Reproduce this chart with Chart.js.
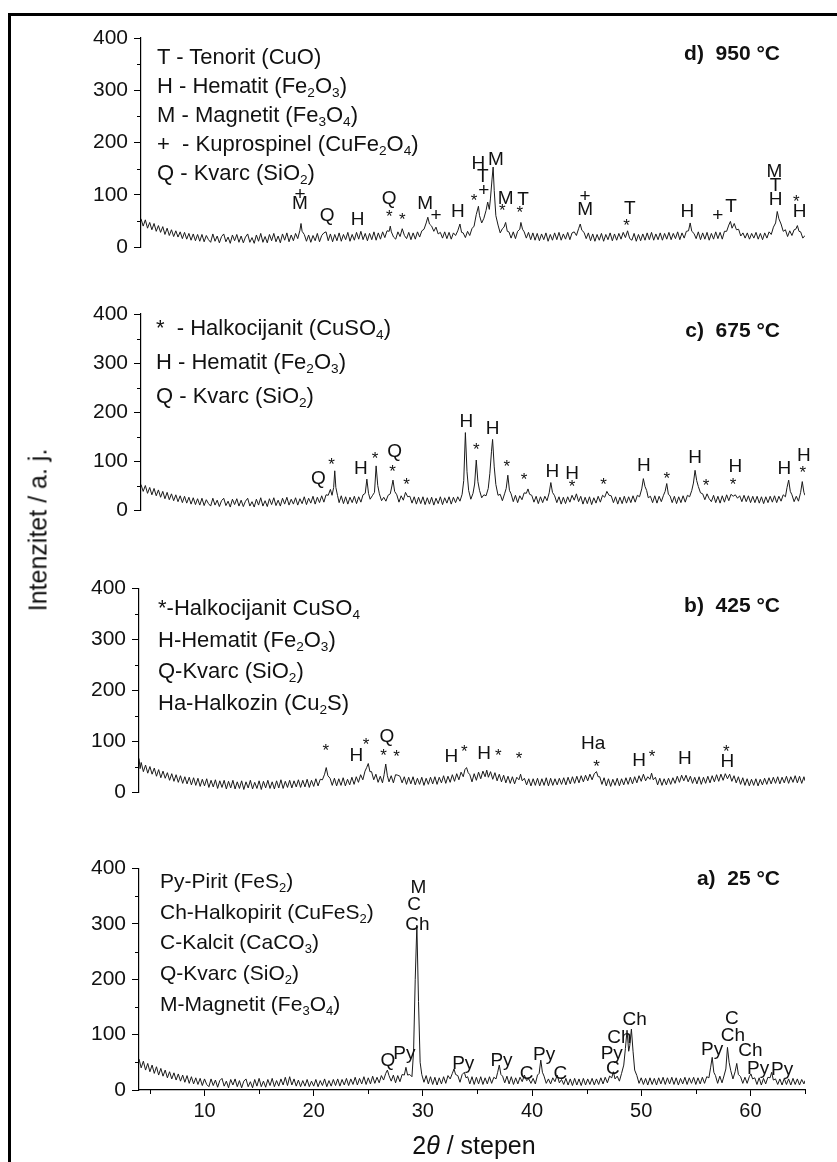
<!DOCTYPE html>
<html>
<head>
<meta charset="utf-8">
<title>XRD</title>
<script src="https://cdn.jsdelivr.net/npm/chart.js@4.4.1/dist/chart.umd.min.js"></script>
<style>
    html, body { margin: 0; padding: 0; background: #fff; }
    #wrap { position: relative; width: 837px; height: 1162px; overflow: hidden; background: #fff;
            font-family: "Liberation Sans", Arial, sans-serif; color: #111; }
    canvas { position: absolute; left: 0; }
    .frame { position: absolute; left: 8px; top: 13px; width: 900px; height: 1200px;
             border-left: 3px solid #000; border-top: 3px solid #000; }
    .phases { position: absolute; font-size: 22px; white-space: nowrap; }
    .phases sub { font-size: 0.62em; vertical-align: -0.32em; line-height: 0; }
    .ptitle { position: absolute; font-weight: bold; font-size: 21px; white-space: nowrap; }
    .ytitle { position: absolute; left: 38px; top: 530px; font-size: 25px; white-space: nowrap;
              transform: translate(-50%, -50%) rotate(-90deg); }
    .xtitle { position: absolute; left: 474px; top: 1145px; font-size: 25px; white-space: nowrap;
              transform: translate(-50%, -50%); }
</style>
</head>
<body>
<div id="wrap">
    <div class="frame"></div>
    <canvas id="chartD" width="837" height="300" style="top:0px"></canvas>
    <canvas id="chartC" width="837" height="275" style="top:295px"></canvas>
    <canvas id="chartB" width="837" height="280" style="top:570px"></canvas>
    <canvas id="chartA" width="837" height="312" style="top:850px"></canvas>

    <div class="phases" style="left:157px;top:42px;line-height:29px">
        <div>T - Tenorit (CuO)</div>
        <div>H - Hematit (Fe<sub>2</sub>O<sub>3</sub>)</div>
        <div>M - Magnetit (Fe<sub>3</sub>O<sub>4</sub>)</div>
        <div>+&nbsp; - Kuprospinel (CuFe<sub>2</sub>O<sub>4</sub>)</div>
        <div>Q - Kvarc (SiO<sub>2</sub>)</div>
    </div>
    <div class="phases" style="left:156px;top:311px;line-height:34px">
        <div>*&nbsp; - Halkocijanit (CuSO<sub>4</sub>)</div>
        <div>H - Hematit (Fe<sub>2</sub>O<sub>3</sub>)</div>
        <div>Q - Kvarc (SiO<sub>2</sub>)</div>
    </div>
    <div class="phases" style="left:158px;top:592px;line-height:31.7px">
        <div>*-Halkocijanit CuSO<sub>4</sub></div>
        <div>H-Hematit (Fe<sub>2</sub>O<sub>3</sub>)</div>
        <div>Q-Kvarc (SiO<sub>2</sub>)</div>
        <div>Ha-Halkozin (Cu<sub>2</sub>S)</div>
    </div>
    <div class="phases" style="left:160px;top:866px;line-height:30.7px;font-size:21px">
        <div>Py-Pirit (FeS<sub>2</sub>)</div>
        <div>Ch-Halkopirit (CuFeS<sub>2</sub>)</div>
        <div>C-Kalcit (CaCO<sub>3</sub>)</div>
        <div>Q-Kvarc (SiO<sub>2</sub>)</div>
        <div>M-Magnetit (Fe<sub>3</sub>O<sub>4</sub>)</div>
    </div>

    <div class="ptitle" style="right:57px;top:41px">d)&nbsp; 950 °C</div>
    <div class="ptitle" style="right:57px;top:318px">c)&nbsp; 675 °C</div>
    <div class="ptitle" style="right:57px;top:593px">b)&nbsp; 425 °C</div>
    <div class="ptitle" style="right:57px;top:866px">a)&nbsp; 25 °C</div>

    <div class="ytitle">Intenzitet / a. j.</div>
    <div class="xtitle">2<i>θ</i> / stepen</div>
</div>

<script>
// XRD patterns: [2theta, intensity]
const PATTERN_D = [
    [4.0,54],[4.2,40],[4.4,52],[4.6,36],[4.8,47],[5.0,33],[5.2,45],[5.4,30],[5.6,41],[5.8,28],[6.0,39],[6.2,24],
    [6.4,36],[6.6,22],[6.8,33],[7.0,20],[7.2,31],[7.4,19],[7.6,29],[7.8,16],[8.0,28],[8.2,15],[8.4,26],[8.6,13],
    [8.8,25],[9.0,12],[9.2,24],[9.4,11],[9.6,24],[9.8,10],[10.0,22],[10.2,14],[10.4,9],[10.6,25],[10.8,11],[11.0,21],
    [11.2,8],[11.4,20],[11.6,25],[11.8,10],[12.0,19],[12.2,7],[12.4,23],[12.6,12],[12.8,24],[13.0,9],[13.2,21],
    [13.4,8],[13.6,19],[13.8,25],[14.0,9],[14.2,18],[14.4,7],[14.6,23],[14.8,11],[15.0,26],[15.2,9],[15.4,20],
    [15.6,8],[15.8,24],[16.0,12],[16.2,26],[16.4,10],[16.6,21],[16.8,8],[17.0,25],[17.2,13],[17.4,27],[17.6,10],
    [17.8,23],[18.0,12],[18.2,26],[18.4,16],[18.6,32],[18.7,45],[18.8,30],[19.0,24],[19.2,11],[19.4,23],[19.6,9],
    [19.8,22],[20.0,12],[20.2,26],[20.4,10],[20.6,22],[20.8,27],[21.0,29],[21.2,12],[21.4,25],[21.6,10],[21.8,24],
    [22.0,12],[22.2,27],[22.4,11],[22.6,24],[22.8,14],[23.0,28],[23.2,11],[23.4,24],[23.6,13],[23.8,28],[24.0,15],
    [24.2,30],[24.4,14],[24.6,26],[24.8,12],[25.0,26],[25.2,14],[25.4,29],[25.6,13],[25.8,27],[26.0,15],[26.2,29],
    [26.4,18],[26.6,31],[26.8,30],[26.9,40],[27.0,29],[27.2,19],[27.4,15],[27.6,29],[27.8,20],[28.0,35],[28.2,22],
    [28.4,16],[28.6,28],[28.8,14],[29.0,27],[29.2,15],[29.4,29],[29.6,19],[29.8,31],[30.0,34],[30.2,46],[30.35,57],
    [30.5,44],[30.7,40],[30.9,30],[31.1,38],[31.3,25],[31.5,28],[31.7,17],[31.9,29],[32.1,16],[32.3,28],[32.5,15],
    [32.7,27],[32.9,22],[33.1,31],[33.3,44],[33.45,28],[33.6,27],[33.8,18],[34.0,30],[34.2,22],[34.4,35],[34.6,40],
    [34.8,62],[35.0,78],[35.1,60],[35.3,46],[35.5,55],[35.7,70],[35.85,86],[36.0,72],[36.1,92],[36.25,130],[36.35,153],
    [36.45,108],[36.6,60],[36.8,42],[37.0,27],[37.2,35],[37.35,38],[37.5,47],[37.65,30],[37.8,29],[38.0,17],[38.2,29],
    [38.4,16],[38.6,30],[38.8,34],[38.9,47],[39.05,34],[39.2,29],[39.4,17],[39.6,28],[39.8,14],[40.0,27],[40.2,13],
    [40.4,26],[40.6,12],[40.8,25],[41.0,14],[41.2,27],[41.4,11],[41.6,24],[41.8,13],[42.0,27],[42.2,14],[42.4,28],
    [42.6,13],[42.8,25],[43.0,15],[43.2,28],[43.4,14],[43.6,27],[43.8,29],[44.0,22],[44.2,35],[44.35,44],[44.5,32],
    [44.7,28],[44.9,16],[45.1,27],[45.3,12],[45.5,25],[45.7,11],[45.9,24],[46.1,13],[46.3,26],[46.5,11],[46.7,24],
    [46.9,14],[47.1,27],[47.3,12],[47.5,25],[47.7,13],[47.9,26],[48.1,15],[48.3,28],[48.5,18],[48.7,31],[48.9,16],
    [49.1,13],[49.3,26],[49.5,11],[49.7,24],[49.9,12],[50.1,25],[50.3,13],[50.5,27],[50.7,14],[50.9,28],[51.1,13],
    [51.3,25],[51.5,14],[51.7,27],[51.9,13],[52.1,26],[52.3,15],[52.5,28],[52.7,14],[52.9,26],[53.1,16],[53.3,29],
    [53.5,14],[53.7,27],[53.9,17],[54.1,30],[54.3,31],[54.45,46],[54.6,30],[54.8,26],[55.0,16],[55.2,29],[55.4,14],
    [55.6,27],[55.8,15],[56.0,28],[56.2,13],[56.4,26],[56.6,15],[56.8,29],[57.0,16],[57.2,28],[57.4,15],[57.6,30],
    [57.8,30],[58.0,42],[58.15,49],[58.3,36],[58.5,45],[58.7,33],[58.9,34],[59.1,21],[59.3,27],[59.5,17],[59.7,27],
    [59.9,15],[60.1,26],[60.3,17],[60.5,28],[60.7,15],[60.9,26],[61.1,14],[61.3,27],[61.5,17],[61.7,29],[61.9,24],
    [62.1,38],[62.3,46],[62.45,68],[62.6,54],[62.8,44],[63.0,30],[63.2,33],[63.4,20],[63.6,31],[63.8,22],[64.0,33],
    [64.15,34],[64.3,41],[64.45,30],[64.6,29],[64.8,17],[65.0,22]
];
const PATTERN_C = [
    [4.0,52],[4.2,38],[4.4,50],[4.6,34],[4.8,46],[5.0,31],[5.2,44],[5.4,29],[5.6,41],[5.8,26],[6.0,38],[6.2,23],
    [6.4,36],[6.6,21],[6.8,33],[7.0,19],[7.2,31],[7.4,17],[7.6,29],[7.8,15],[8.0,28],[8.2,14],[8.4,26],[8.6,12],
    [8.8,25],[9.0,11],[9.2,23],[9.4,10],[9.6,24],[9.8,9],[10.0,21],[10.2,13],[10.4,8],[10.6,24],[10.8,10],[11.0,20],
    [11.2,7],[11.4,19],[11.6,24],[11.8,9],[12.0,18],[12.2,6],[12.4,22],[12.6,11],[12.8,23],[13.0,8],[13.2,20],
    [13.4,7],[13.6,18],[13.8,24],[14.0,8],[14.2,17],[14.4,6],[14.6,22],[14.8,10],[15.0,25],[15.2,8],[15.4,19],
    [15.6,7],[15.8,23],[16.0,11],[16.2,25],[16.4,9],[16.6,20],[16.8,8],[17.0,24],[17.2,12],[17.4,26],[17.6,10],
    [17.8,22],[18.0,12],[18.2,25],[18.4,10],[18.6,23],[18.8,13],[19.0,27],[19.2,11],[19.4,24],[19.6,14],[19.8,28],
    [20.0,12],[20.2,26],[20.4,15],[20.6,29],[20.8,16],[21.0,31],[21.2,30],[21.4,42],[21.55,30],[21.7,46],[21.8,80],
    [21.9,46],[22.05,30],[22.2,15],[22.4,29],[22.6,13],[22.8,27],[23.0,12],[23.2,26],[23.4,15],[23.6,28],[23.8,13],
    [24.0,27],[24.2,16],[24.4,31],[24.6,34],[24.75,63],[24.9,34],[25.05,22],[25.25,29],[25.45,36],[25.6,90],[25.75,50],
    [25.9,33],[26.1,19],[26.3,26],[26.5,18],[26.7,30],[26.9,33],[27.05,49],[27.15,61],[27.3,38],[27.5,31],[27.7,16],
    [27.9,29],[28.1,20],[28.3,36],[28.5,27],[28.7,28],[28.9,14],[29.1,27],[29.3,12],[29.5,26],[29.7,13],[29.9,27],
    [30.1,11],[30.3,25],[30.5,12],[30.7,26],[30.9,10],[31.1,24],[31.3,13],[31.5,27],[31.7,11],[31.9,25],[32.1,14],
    [32.3,27],[32.5,12],[32.7,26],[32.9,15],[33.1,27],[33.3,18],[33.5,32],[33.65,60],[33.8,158],[33.95,78],[34.1,40],
    [34.3,22],[34.5,34],[34.65,53],[34.8,102],[34.95,58],[35.1,40],[35.3,25],[35.5,31],[35.7,29],[35.9,44],[36.05,75],
    [36.2,120],[36.3,144],[36.45,88],[36.6,52],[36.8,30],[37.0,32],[37.2,19],[37.4,33],[37.55,44],[37.7,71],[37.85,40],
    [38.0,33],[38.2,17],[38.4,30],[38.6,15],[38.8,29],[39.0,21],[39.2,35],[39.4,34],[39.55,43],[39.7,32],[39.9,30],
    [40.1,16],[40.3,28],[40.5,13],[40.7,27],[40.9,15],[41.1,28],[41.3,19],[41.5,35],[41.65,56],[41.8,36],[42.0,29],
    [42.2,15],[42.4,27],[42.6,12],[42.8,26],[43.0,13],[43.2,27],[43.4,16],[43.6,30],[43.8,20],[44.0,33],[44.2,17],
    [44.4,28],[44.6,12],[44.8,26],[45.0,13],[45.2,27],[45.4,11],[45.6,25],[45.8,14],[46.0,28],[46.2,16],[46.4,30],
    [46.6,26],[46.8,38],[47.0,30],[47.2,29],[47.4,15],[47.6,27],[47.8,12],[48.0,26],[48.2,13],[48.4,28],[48.6,14],
    [48.8,27],[49.0,15],[49.2,29],[49.4,16],[49.6,30],[49.8,27],[50.0,43],[50.15,64],[50.3,48],[50.45,40],[50.6,25],
    [50.8,28],[51.0,15],[51.2,29],[51.4,14],[51.6,28],[51.8,17],[52.0,30],[52.15,38],[52.3,54],[52.45,32],[52.6,29],
    [52.8,15],[53.0,28],[53.2,13],[53.4,27],[53.6,15],[53.8,29],[54.0,16],[54.2,30],[54.4,27],[54.6,40],[54.75,55],
    [54.9,81],[55.05,60],[55.2,48],[55.4,35],[55.6,33],[55.8,21],[56.0,33],[56.2,23],[56.4,17],[56.6,30],[56.8,15],
    [57.0,28],[57.2,14],[57.4,29],[57.6,16],[57.8,31],[58.0,19],[58.2,32],[58.4,28],[58.6,31],[58.8,24],[59.0,29],
    [59.2,17],[59.4,30],[59.6,17],[59.8,29],[60.0,15],[60.2,28],[60.4,15],[60.6,28],[60.8,14],[61.0,27],[61.2,13],
    [61.4,27],[61.6,15],[61.8,28],[62.0,16],[62.2,29],[62.4,15],[62.6,28],[62.8,18],[63.0,31],[63.2,27],[63.35,46],
    [63.5,61],[63.65,38],[63.8,31],[64.0,17],[64.2,28],[64.4,18],[64.6,36],[64.75,58],[64.9,36],[65.0,30]
];
const PATTERN_B = [
    [4.0,66],[4.1,46],[4.2,58],[4.4,40],[4.6,53],[4.8,37],[5.0,50],[5.2,35],[5.4,47],[5.6,31],[5.8,44],[6.0,28],
    [6.2,41],[6.4,27],[6.6,38],[6.8,23],[7.0,36],[7.2,21],[7.4,34],[7.6,19],[7.8,32],[8.0,17],[8.2,30],[8.4,16],
    [8.6,29],[8.8,14],[9.0,28],[9.2,13],[9.4,27],[9.6,11],[9.8,25],[10.0,12],[10.2,26],[10.4,9],[10.6,23],[10.8,10],
    [11.0,24],[11.2,7],[11.4,22],[11.6,9],[11.8,23],[12.0,6],[12.2,21],[12.4,8],[12.6,23],[12.8,6],[13.0,20],
    [13.2,7],[13.4,22],[13.6,5],[13.8,20],[14.0,8],[14.2,23],[14.4,6],[14.6,19],[14.8,7],[15.0,22],[15.2,5],
    [15.4,21],[15.6,8],[15.8,23],[16.0,7],[16.2,20],[16.4,6],[16.6,22],[16.8,8],[17.0,24],[17.2,7],[17.4,21],
    [17.6,9],[17.8,23],[18.0,8],[18.2,22],[18.4,10],[18.6,24],[18.8,9],[19.0,23],[19.2,10],[19.4,25],[19.6,9],
    [19.8,23],[20.0,11],[20.2,26],[20.4,12],[20.6,25],[20.8,24],[21.0,35],[21.15,48],[21.3,32],[21.5,27],[21.7,13],
    [21.9,27],[22.1,12],[22.3,26],[22.5,13],[22.7,28],[22.9,12],[23.1,25],[23.3,14],[23.5,29],[23.7,15],[23.9,30],
    [24.1,19],[24.3,34],[24.5,24],[24.7,41],[24.85,48],[25.0,56],[25.15,40],[25.3,40],[25.5,24],[25.7,35],[25.9,19],
    [26.1,31],[26.3,18],[26.45,34],[26.6,55],[26.75,32],[26.9,20],[27.1,32],[27.3,18],[27.5,34],[27.7,33],[27.9,31],
    [28.1,18],[28.3,30],[28.5,15],[28.7,29],[28.9,16],[29.1,30],[29.3,14],[29.5,27],[29.7,15],[29.9,29],[30.1,13],
    [30.3,27],[30.5,15],[30.7,29],[30.9,16],[31.1,30],[31.3,15],[31.5,29],[31.7,18],[31.9,32],[32.1,17],[32.3,31],
    [32.5,19],[32.7,34],[32.9,21],[33.1,36],[33.3,24],[33.5,39],[33.7,30],[33.85,44],[34.0,48],[34.15,38],[34.3,34],
    [34.5,20],[34.7,36],[34.9,23],[35.1,39],[35.3,26],[35.5,41],[35.7,30],[35.85,43],[36.0,29],[36.2,40],[36.4,25],
    [36.6,38],[36.8,22],[37.0,35],[37.2,20],[37.4,33],[37.6,18],[37.8,31],[38.0,17],[38.2,30],[38.4,16],[38.6,29],
    [38.8,24],[38.95,35],[39.1,22],[39.3,27],[39.5,14],[39.7,26],[39.9,12],[40.1,26],[40.3,13],[40.5,27],[40.7,12],
    [40.9,26],[41.1,13],[41.3,28],[41.5,12],[41.7,27],[41.9,13],[42.1,26],[42.3,14],[42.5,27],[42.7,15],[42.9,28],
    [43.1,14],[43.3,29],[43.5,16],[43.7,30],[43.9,17],[44.1,31],[44.3,18],[44.5,32],[44.7,20],[44.9,33],[45.1,22],
    [45.3,35],[45.5,24],[45.7,36],[45.9,40],[46.05,30],[46.2,30],[46.4,15],[46.6,28],[46.8,12],[47.0,26],[47.2,11],
    [47.4,25],[47.6,13],[47.8,27],[48.0,12],[48.2,26],[48.4,14],[48.6,28],[48.8,15],[49.0,29],[49.2,16],[49.4,30],
    [49.6,18],[49.8,32],[50.0,21],[50.2,35],[50.4,22],[50.6,30],[50.8,25],[50.95,37],[51.1,24],[51.3,29],[51.5,14],
    [51.7,27],[51.9,13],[52.1,26],[52.3,14],[52.5,27],[52.7,15],[52.9,28],[53.1,17],[53.3,31],[53.5,19],[53.7,33],
    [53.9,22],[54.1,33],[54.3,20],[54.5,31],[54.7,17],[54.9,29],[55.1,16],[55.3,30],[55.5,15],[55.7,29],[55.9,17],
    [56.1,31],[56.3,18],[56.5,32],[56.7,20],[56.9,34],[57.1,21],[57.3,35],[57.5,23],[57.7,36],[57.9,26],[58.1,35],
    [58.3,21],[58.5,32],[58.7,18],[58.9,30],[59.1,15],[59.3,28],[59.5,13],[59.7,26],[59.9,12],[60.1,25],[60.3,13],
    [60.5,26],[60.7,12],[60.9,25],[61.1,14],[61.3,27],[61.5,15],[61.7,28],[61.9,16],[62.1,29],[62.3,17],[62.5,30],
    [62.7,16],[62.9,29],[63.1,18],[63.3,31],[63.5,17],[63.7,30],[63.9,19],[64.1,32],[64.3,18],[64.5,31],[64.7,17],
    [64.9,30],[65.0,22]
];
const PATTERN_A = [
    [4.0,56],[4.2,40],[4.4,52],[4.6,36],[4.8,48],[5.0,33],[5.2,45],[5.4,30],[5.6,42],[5.8,27],[6.0,39],[6.2,25],
    [6.4,36],[6.6,22],[6.8,33],[7.0,20],[7.2,31],[7.4,18],[7.6,29],[7.8,16],[8.0,27],[8.2,14],[8.4,26],[8.6,12],
    [8.8,24],[9.0,11],[9.2,22],[9.4,10],[9.6,21],[9.8,8],[10.0,20],[10.2,10],[10.4,6],[10.6,20],[10.8,8],[11.0,18],
    [11.2,5],[11.4,17],[11.6,21],[11.8,7],[12.0,16],[12.2,4],[12.4,19],[12.6,9],[12.8,20],[13.0,6],[13.2,17],
    [13.4,4],[13.6,16],[13.8,20],[14.0,6],[14.2,15],[14.4,4],[14.6,19],[14.8,7],[15.0,21],[15.2,6],[15.4,16],
    [15.6,5],[15.8,19],[16.0,8],[16.2,21],[16.4,6],[16.6,17],[16.8,7],[17.0,20],[17.2,9],[17.4,23],[17.6,8],
    [17.8,24],[18.0,9],[18.2,20],[18.4,7],[18.6,18],[18.8,6],[19.0,17],[19.2,7],[19.4,19],[19.6,6],[19.8,16],
    [20.0,7],[20.2,19],[20.4,6],[20.6,17],[20.8,8],[21.0,20],[21.2,6],[21.4,17],[21.6,7],[21.8,19],[22.0,8],
    [22.2,20],[22.4,7],[22.6,19],[22.8,9],[23.0,21],[23.2,8],[23.4,20],[23.6,10],[23.8,23],[24.0,9],[24.2,21],
    [24.4,11],[24.6,24],[24.8,10],[25.0,22],[25.2,11],[25.4,25],[25.6,12],[25.8,23],[26.0,13],[26.2,26],[26.4,18],
    [26.6,30],[26.75,36],[26.9,26],[27.1,16],[27.3,27],[27.5,13],[27.7,26],[27.9,15],[28.1,28],[28.3,27],[28.45,41],
    [28.6,27],[28.8,28],[29.0,24],[29.15,70],[29.3,200],[29.45,298],[29.6,160],[29.75,50],[29.9,28],[30.1,14],
    [30.3,26],[30.5,11],[30.7,24],[30.9,10],[31.1,23],[31.3,9],[31.5,22],[31.7,11],[31.9,24],[32.1,12],[32.3,26],
    [32.5,20],[32.7,30],[32.85,38],[33.0,28],[33.2,26],[33.4,14],[33.6,28],[33.8,32],[33.95,22],[34.1,24],[34.3,11],
    [34.5,24],[34.7,10],[34.9,23],[35.1,11],[35.3,24],[35.5,10],[35.7,22],[35.9,11],[36.1,24],[36.3,12],[36.5,23],
    [36.7,20],[36.85,32],[37.0,45],[37.15,28],[37.3,25],[37.5,13],[37.7,25],[37.9,11],[38.1,24],[38.3,10],[38.5,22],
    [38.7,11],[38.9,23],[39.1,15],[39.3,27],[39.5,17],[39.7,20],[39.9,12],[40.1,21],[40.3,11],[40.5,27],[40.65,30],
    [40.8,54],[40.95,32],[41.1,25],[41.3,12],[41.5,20],[41.7,11],[41.9,22],[42.1,15],[42.3,27],[42.5,13],[42.7,19],
    [42.9,10],[43.1,21],[43.3,9],[43.5,20],[43.7,8],[43.9,21],[44.1,9],[44.3,20],[44.5,8],[44.7,21],[44.9,9],
    [45.1,20],[45.3,10],[45.5,21],[45.7,9],[45.9,20],[46.1,10],[46.3,22],[46.5,11],[46.7,23],[46.9,13],[47.1,25],
    [47.3,22],[47.45,33],[47.6,20],[47.8,25],[48.0,16],[48.2,30],[48.4,45],[48.55,75],[48.7,108],[48.85,70],[48.95,80],
    [49.1,110],[49.25,70],[49.4,36],[49.6,26],[49.8,12],[50.0,22],[50.2,10],[50.4,21],[50.6,9],[50.8,22],[51.0,10],
    [51.2,21],[51.4,9],[51.6,22],[51.8,11],[52.0,23],[52.2,10],[52.4,22],[52.6,11],[52.8,23],[53.0,10],[53.2,22],
    [53.4,9],[53.6,21],[53.8,11],[54.0,23],[54.2,10],[54.4,22],[54.6,12],[54.8,23],[55.0,10],[55.2,22],[55.4,11],
    [55.6,23],[55.8,12],[56.0,24],[56.2,22],[56.35,40],[56.5,59],[56.65,32],[56.8,26],[57.0,12],[57.2,25],[57.4,13],
    [57.6,27],[57.75,38],[57.9,77],[58.05,50],[58.2,35],[58.4,20],[58.6,33],[58.75,48],[58.9,28],[59.1,24],[59.3,12],
    [59.5,23],[59.7,12],[59.9,24],[60.05,29],[60.2,20],[60.4,22],[60.6,10],[60.8,22],[61.0,9],[61.2,21],[61.4,11],
    [61.6,23],[61.8,22],[61.95,32],[62.1,18],[62.3,20],[62.5,10],[62.7,20],[62.9,9],[63.1,21],[63.3,10],[63.5,20],
    [63.7,9],[63.9,21],[64.1,10],[64.3,20],[64.5,9],[64.7,19],[64.9,11],[65.0,17]
];

// phase labels over the peaks: [text, 2theta, intensity]
const MARKS_D = [
    ['+',18.6,102],['M',18.6,85],['Q',21.1,62],['H',23.9,54],['Q',26.8,95],['*',26.8,66],['*',28.0,61],
    ['M',30.1,84],['+',31.1,62],['H',33.1,70],['*',34.6,97],['H',35.0,162],['T',35.4,137],['+',35.5,110],
    ['M',36.6,169],['*',37.2,77],['M',37.5,95],['*',38.8,75],['T',39.1,93],['+',44.8,98],['M',44.8,74],
    ['T',48.9,75],['*',48.6,50],['H',54.2,70],['+',57.0,62],['T',58.2,79],['M',62.2,145],['T',62.3,119],
    ['H',62.3,92],['*',64.2,95],['H',64.5,70]
];
const MARKS_C = [
    ['Q',20.3,66],['*',21.5,102],['H',24.2,86],['*',25.5,113],['Q',27.3,120],['*',27.1,88],['*',28.4,60],
    ['H',33.9,183],['*',34.8,132],['H',36.3,168],['*',37.6,97],['*',39.2,71],['H',41.8,80],['H',43.6,76],
    ['*',43.6,56],['*',46.5,61],['H',50.2,92],['*',52.3,73],['H',54.9,108],['*',55.9,59],['H',58.6,90],
    ['*',58.4,61],['H',63.1,86],['H',64.9,113],['*',64.8,85]
];
const MARKS_B = [
    ['*',21.1,90],['H',23.9,74],['*',24.8,101],['Q',26.7,111],['*',26.4,80],['*',27.6,79],['H',32.6,72],
    ['*',33.8,88],['H',35.6,77],['*',36.9,80],['*',38.8,75],['Ha',45.6,96],['*',45.9,59],['H',49.8,63],
    ['*',51.0,78],['H',54.0,67],['*',57.8,87],['H',57.9,61]
];
const MARKS_A = [
    ['Q',26.8,54],['Py',28.3,68],['M',29.6,368],['C',29.2,337],['Ch',29.5,300],['Py',33.7,50],['Py',37.2,54],
    ['C',39.5,32],['Py',41.1,66],['C',42.6,32],['Py',47.3,68],['C',47.4,41],['Ch',48.0,97],['Ch',49.4,129],
    ['Py',56.5,75],['C',58.3,131],['Ch',58.4,99],['Ch',60.0,72],['Py',60.7,41],['Py',62.9,39]
];

const X_MIN = 4, X_MAX = 65;
const Y_TICK_STEP = 100;
const X_TICK_STEP = 10;
const Y_MINOR = [50, 150, 250, 350];
const X_MINOR = [5, 15, 25, 35, 45, 55, 65];

const FONT = '"Liberation Sans", Arial, sans-serif';

// short ticks between the labelled ones
const minorTicks = {
    id: 'minorTicks',
    afterDraw(chart) {
        const { ctx, chartArea, scales: { x, y } } = chart;
        ctx.save();
        ctx.strokeStyle = '#000';
        ctx.lineWidth = 1;
        Y_MINOR.forEach(v => {
            const py = Math.round(y.getPixelForValue(v)) + 0.5;
            ctx.beginPath();
            ctx.moveTo(chartArea.left - 4, py);
            ctx.lineTo(chartArea.left, py);
            ctx.stroke();
        });
        if (x.options.display) {
            X_MINOR.forEach(v => {
                const px = Math.round(x.getPixelForValue(v)) + 0.5;
                ctx.beginPath();
                ctx.moveTo(px, chartArea.bottom);
                ctx.lineTo(px, chartArea.bottom + 4);
                ctx.stroke();
            });
        }
        ctx.restore();
    }
};

function peakLabels(marks, size) {
    return {
        id: 'peakLabels',
        afterDatasetsDraw(chart) {
            const { ctx, scales: { x, y } } = chart;
            ctx.save();
            ctx.fillStyle = '#111';
            ctx.textAlign = 'center';
            ctx.textBaseline = 'middle';
            marks.forEach(([t, tt, v]) => {
                const px = x.getPixelForValue(tt);
                const py = y.getPixelForValue(v);
                if (t === '*') {
                    ctx.font = (size - 2) + 'px ' + FONT;
                    ctx.fillText(t, px, py + 5);
                } else {
                    ctx.font = size + 'px ' + FONT;
                    ctx.fillText(t, px, py + 1);
                }
            });
            ctx.restore();
        }
    };
}

function makePanel(id, pattern, marks, cfg) {
    const el = document.getElementById(id);
    return new Chart(el, {
        type: 'line',
        data: {
            datasets: [{
                data: pattern.map(p => ({ x: p[0], y: p[1] })),
                borderColor: '#1a1a1a',
                borderWidth: 1,
                pointRadius: 0,
                tension: 0,
                fill: false
            }]
        },
        options: {
            responsive: false,
            animation: false,
            events: [],
            layout: { padding: { left: 0, right: 32, top: cfg.padTop, bottom: cfg.padBottom } },
            plugins: { legend: { display: false }, tooltip: { enabled: false } },
            scales: {
                x: {
                    type: 'linear',
                    min: X_MIN,
                    max: X_MAX,
                    display: cfg.showX,
                    afterFit(s) { s.height = 40; },
                    border: { display: true, color: '#000', width: 1.2 },
                    grid: { drawOnChartArea: false, drawTicks: true, tickLength: 6, color: '#000' },
                    ticks: {
                        stepSize: X_TICK_STEP,
                        includeBounds: false,
                        maxRotation: 0,
                        padding: 3,
                        color: '#111',
                        font: { family: FONT, size: 20 }
                    }
                },
                y: {
                    min: 0,
                    max: 400,
                    afterFit(s) { s.width = cfg.axisX; },
                    border: { display: true, color: '#000', width: 1.2 },
                    grid: { drawOnChartArea: false, drawTicks: true, tickLength: 7, color: '#000' },
                    ticks: {
                        stepSize: Y_TICK_STEP,
                        padding: 6,
                        color: '#111',
                        font: { family: FONT, size: 21 }
                    }
                }
            }
        },
        plugins: [minorTicks, peakLabels(marks, cfg.labelSize)]
    });
}

makePanel('chartD', PATTERN_D, MARKS_D, { padTop: 38, padBottom: 13, showX: false, axisX: 141, labelSize: 19 });
makePanel('chartC', PATTERN_C, MARKS_C, { padTop: 19, padBottom: 20, showX: false, axisX: 141, labelSize: 19 });
makePanel('chartB', PATTERN_B, MARKS_B, { padTop: 13, padBottom: 18, showX: false, axisX: 139, labelSize: 19 });
makePanel('chartA', PATTERN_A, MARKS_A, { padTop: 17, padBottom: 32, showX: true, axisX: 139, labelSize: 19 });
</script>
</body>
</html>
